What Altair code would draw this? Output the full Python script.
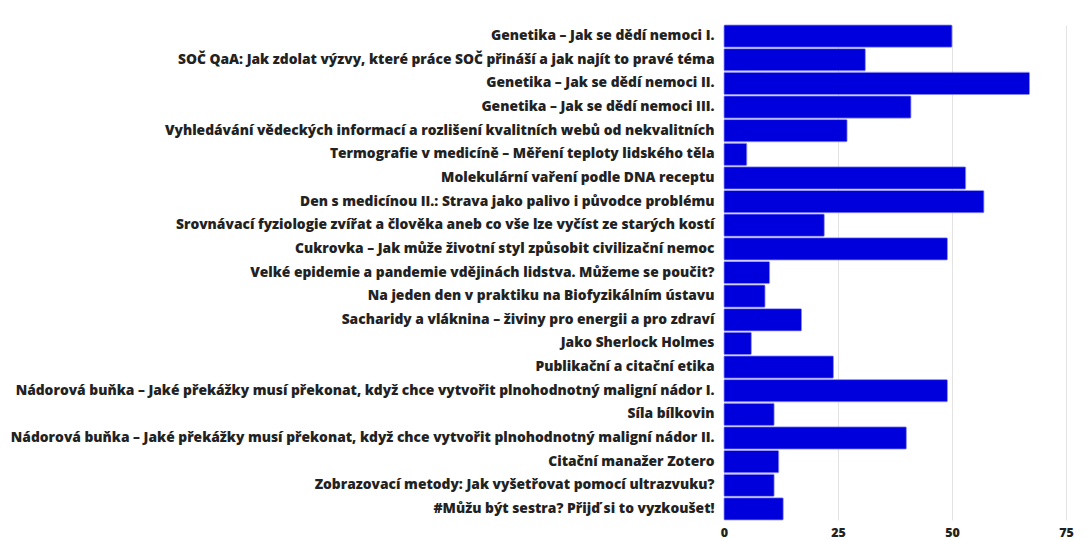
import altair as alt
import pandas as pd

topics = [
    "Genetika – Jak se dědí nemoci I.",
    "SOČ QaA: Jak zdolat výzvy, které práce SOČ přináší a jak najít to pravé téma",
    "Genetika – Jak se dědí nemoci II.",
    "Genetika – Jak se dědí nemoci III.",
    "Vyhledávání vědeckých informací a rozlišení kvalitních webů od nekvalitních",
    "Termografie v medicíně – Měření teploty lidského těla",
    "Molekulární vaření podle DNA receptu",
    "Den s medicínou II.: Strava jako palivo i původce problému",
    "Srovnávací fyziologie zvířat a člověka aneb co vše lze vyčíst ze starých kostí",
    "Cukrovka – Jak může životní styl způsobit civilizační nemoc",
    "Velké epidemie a pandemie vdějinách lidstva. Můžeme se poučit?",
    "Na jeden den v praktiku na Biofyzikálním ústavu",
    "Sacharidy a vláknina – živiny pro energii a pro zdraví",
    "Jako Sherlock Holmes",
    "Publikační a citační etika",
    "Nádorová buňka – Jaké překážky musí překonat, když chce vytvořit plnohodnotný maligní nádor I.",
    "Síla bílkovin",
    "Nádorová buňka – Jaké překážky musí překonat, když chce vytvořit plnohodnotný maligní nádor II.",
    "Citační manažer Zotero",
    "Zobrazovací metody: Jak vyšetřovat pomocí ultrazvuku?",
    "#Můžu být sestra? Přijď si to vyzkoušet!",
]
counts = [50, 31, 67, 41, 27, 5, 53, 57, 22, 49, 10, 9, 17, 6, 24, 49, 11, 40, 12, 11, 13]
x_ticks = [0, 25, 50, 75]

df = pd.DataFrame({"topic": topics, "count": counts})

chart = alt.Chart(df).mark_bar(
    color="#0000DC", cornerRadius=1, stroke="#6F6FF0", strokeWidth=0.6
).encode(
    x=alt.X("count:Q", scale=alt.Scale(domain=[0, 75], nice=False),
            axis=alt.Axis(values=x_ticks, title=None, domain=False, ticks=False,
                          labelFont="Open Sans", labelFontWeight=800, labelFontSize=12.5,
                          labelColor="#222222", labelPadding=6, gridColor="#E3E3E3",
                          labelFlush=False)),
    y=alt.Y("topic:N", sort=topics, scale=alt.Scale(paddingInner=0.06, paddingOuter=0.0),
            axis=alt.Axis(title=None, domain=False, ticks=False, grid=False,
                          labelFont="Open Sans", labelFontWeight=800, labelFontSize=13.8,
                          labelColor="#222222", labelPadding=10, labelLimit=800)),
).properties(
    width=342, height=495,
    autosize=alt.AutoSizeParams(type="none"),
    padding={"left": 716, "top": 17, "right": 13, "bottom": 20},
).configure_view(stroke=None)

chart.save("out.html", embed_options={"renderer": "svg", "actions": False})
